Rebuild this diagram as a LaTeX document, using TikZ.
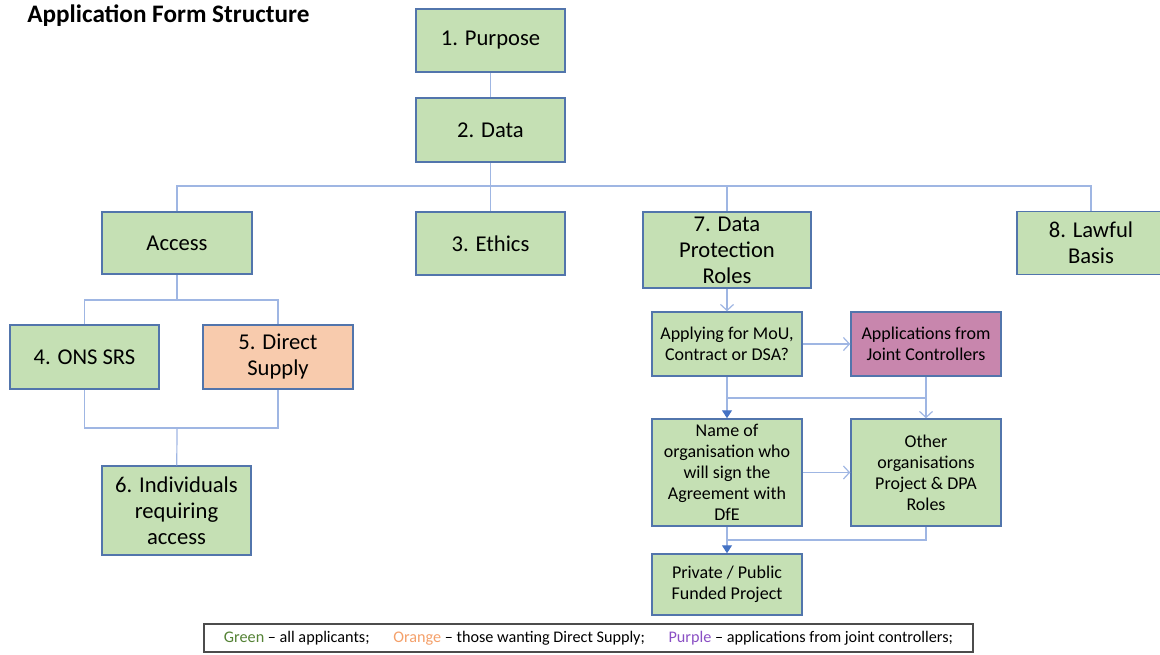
\documentclass[tikz,border=0pt]{standalone}
\usepackage{xcolor}
\usepackage{fontspec}
\setmainfont{Carlito}
\usepackage{tikz}
\usetikzlibrary{arrows.meta}

\definecolor{boxgreen}{HTML}{C5E0B4}
\definecolor{boxorange}{HTML}{F8CBAD}
\definecolor{boxpurple}{HTML}{C886AD}
\definecolor{boxline}{HTML}{5275AC}
\definecolor{linklight}{HTML}{9FB6E3}
\definecolor{linkdark}{HTML}{4472C4}
\definecolor{txtgreen}{HTML}{548235}
\definecolor{txtorange}{HTML}{F4A06A}
\definecolor{txtpurple}{HTML}{8A4FC4}

\begin{document}
\begin{tikzpicture}[x=0.5pt,y=-0.5pt,
		box/.style={draw=boxline, line width=0.75pt, fill=boxgreen, align=center,
			inner sep=0pt, font=\fontsize{11.3}{13}\selectfont},
		smallbox/.style={box, font=\fontsize{9}{10.5}\selectfont},
		conn/.style={draw=linklight, line width=0.6pt},
		openarr/.style={conn, -{Straight Barb[length=3pt,width=6.5pt]}},
		fullarr/.style={conn, -{Triangle[length=4pt,width=5pt,color=linkdark]}},
	]
		\clip (0,0) rectangle (1160,654);

		% title
		\node[anchor=west, inner sep=0pt, font=\fontsize{12.6}{14}\selectfont\bfseries] (title) at (27,16) {Application Form Structure};

		% top of the tree
		\node[box, minimum width=74.5pt, minimum height=31.5pt] (purpose) at (490.5,40.5) {1. Purpose};
		\node[box, minimum width=74.5pt, minimum height=32pt] (data) at (490.5,130) {2. Data};

		\node[box, minimum width=75pt, minimum height=31pt] (access) at (177,243) {Access};
		\node[box, minimum width=74.5pt, minimum height=31.5pt] (ethics) at (490.5,243.5) {3. Ethics};
		\node[box, minimum width=84pt, minimum height=38pt] (dproles) at (727,250) {7. Data\\Protection\\Roles};
		\node[box, minimum width=74pt, minimum height=31.5pt] (lawful) at (1091,243) {8. Lawful\\Basis};

		% access branch
		\node[box, minimum width=74.5pt, minimum height=32pt] (ons) at (84.5,357) {4. ONS SRS};
		\node[box, fill=boxorange, minimum width=75pt, minimum height=32pt] (direct) at (278,357) {5. Direct\\Supply};
		\node[box, minimum width=74.5pt, minimum height=44.5pt] (indiv) at (176.5,510.5) {6. Individuals\\requiring\\access};

		% data protection branch
		\node[smallbox, minimum width=75pt, minimum height=32pt] (mou) at (727,344) {Applying for MoU,\\Contract or DSA?};
		\node[smallbox, fill=boxpurple, minimum width=75pt, minimum height=32pt] (joint) at (926,344) {Applications from\\Joint Controllers};
		\node[smallbox, minimum width=75pt, minimum height=53.5pt] (nameorg) at (727,472.5) {Name of\\organisation who\\will sign the\\Agreement with\\DfE};
		\node[smallbox, minimum width=75pt, minimum height=53.5pt] (other) at (926,472.5) {Other\\organisations\\Project \& DPA\\Roles};
		\node[smallbox, minimum width=75pt, minimum height=30.5pt] (funded) at (727,584.5) {Private / Public\\Funded Project};

		% legend
		\node[draw=black!70, line width=0.6pt, minimum width=384.5pt, minimum height=14pt, inner sep=0pt,
			font=\fontsize{8.1}{9}\selectfont] (legend) at (588.5,638)
			{\textcolor{txtgreen}{Green} -- all applicants;\hspace{10pt}
			 \textcolor{txtorange}{Orange} -- those wanting Direct Supply;\hspace{10pt}
			 \textcolor{txtpurple}{Purple} -- applications from joint controllers;};

		\coordinate (bus) at (490.5,186);
		\coordinate (accbus) at (177,300);
		\coordinate (joinbus) at (177,428);
		\coordinate (mbus) at (727,398);
		\coordinate (fbus) at (727,540);

		\draw[conn] (purpose) -- (data);
		\draw[conn] (data) -- (ethics);
		\draw[conn] (access.north) |- (bus) -| (lawful.north);
		\draw[conn] (bus) -| (dproles.north);

		\draw[conn] (access) -- (accbus);
		\draw[conn] (ons.north) |- (accbus) -| (direct.north);
		\draw[conn] (ons.south) |- (joinbus) -| (direct.south);
		\draw[conn] (joinbus) -- (indiv);

		\draw[openarr] (dproles) -- (mou);
		\draw[openarr] (mou) -- (joint);
		\draw[conn] (joint.south) |- (mbus);
		\draw[fullarr] (mou) -- (nameorg);
		\draw[openarr] (joint) -- (other);
		\draw[openarr] (nameorg) -- (other);
		\draw[conn] (other.south) |- (fbus);
		\draw[fullarr] (nameorg) -- (funded);
	\end{tikzpicture}
\end{document}
